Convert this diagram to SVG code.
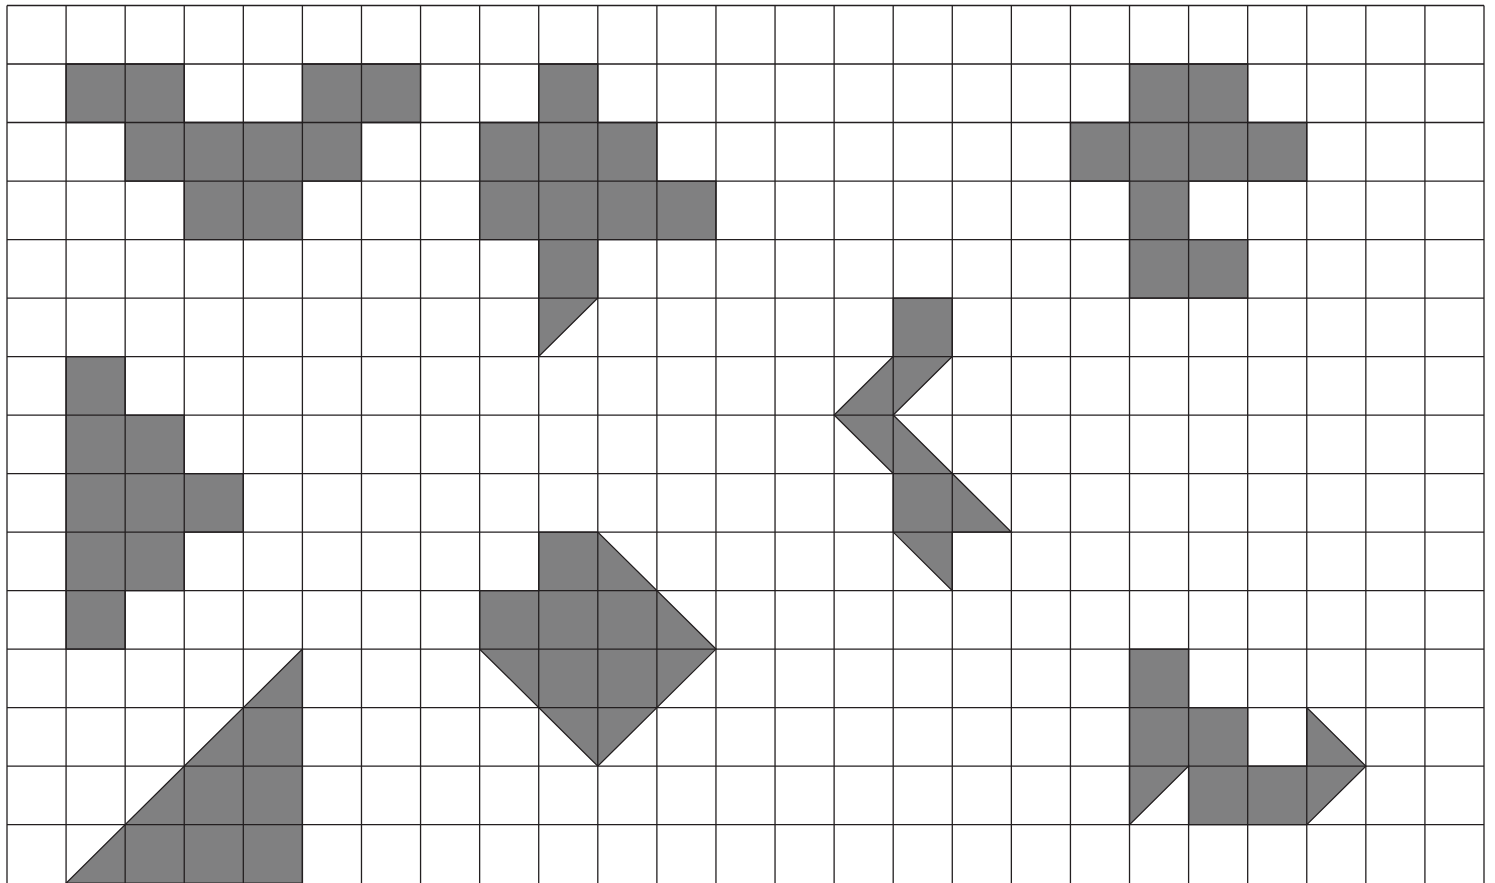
<svg xmlns="http://www.w3.org/2000/svg" width="1495" height="883" viewBox="0 0 1495 883">
<style>
.s{fill:#808081;stroke:#231f20;stroke-width:1.3;stroke-linejoin:miter;vector-effect:non-scaling-stroke}
.g{fill:none;stroke:#231f20;stroke-width:1.3;vector-effect:non-scaling-stroke}
</style>
<rect width="1495" height="883" fill="#ffffff"/>
<g transform="translate(7,5.5) scale(59.08,58.51)">
<g id="shape1"><polygon class="s" points="1,1 3,1 3,2 5,2 5,1 7,1 7,2 6,2 6,3 5,3 5,4 3,4 3,3 2,3 2,2 1,2"/></g>
<g id="shape2"><polygon class="s" points="9,1 10,1 10,2 11,2 11,3 12,3 12,4 10,4 10,5 9,6 9,4 8,4 8,2 9,2"/></g>
<g id="shape3"><polygon class="s" points="19,1 21,1 21,2 22,2 22,3 20,3 20,4 21,4 21,5 19,5 19,3 18,3 18,2 19,2"/></g>
<g id="shape4"><polygon class="s" points="1,6 2,6 2,7 3,7 3,8 4,8 4,9 3,9 3,10 2,10 2,11 1,11"/></g>
<g id="shape5"><polygon class="s" points="1,15 5,11 5,15"/></g>
<g id="shape6"><polygon class="s" points="9,9 10,9 12,11 10,13 8,11 8,10 9,10"/></g>
<g id="shape7"><polygon class="s" points="15,5 16,5 16,6 15,7 16,8 17,9 16,9 16,10 15,9 15,8 14,7 15,6"/></g>
<g id="shape8"><polygon class="s" points="19,11 20,11 20,12 21,12 21,13 22,13 22,12 23,13 22,14 20,14 20,13 19,14"/></g>
<g id="grid">
<path class="g" d="M0,0V15.1M1,0V15.1M2,0V15.1M3,0V15.1M4,0V15.1M5,0V15.1M6,0V15.1M7,0V15.1M8,0V15.1M9,0V15.1M10,0V15.1M11,0V15.1M12,0V15.1M13,0V15.1M14,0V15.1M15,0V15.1M16,0V15.1M17,0V15.1M18,0V15.1M19,0V15.1M20,0V15.1M21,0V15.1M22,0V15.1M23,0V15.1M24,0V15.1M25,0V15.1"/>
<path class="g" d="M0,0H25M0,1H25M0,2H25M0,3H25M0,4H25M0,5H25M0,6H25M0,7H25M0,8H25M0,9H25M0,10H25M0,11H25M0,12H25M0,13H25M0,14H25"/>
</g>
</g>
</svg>
